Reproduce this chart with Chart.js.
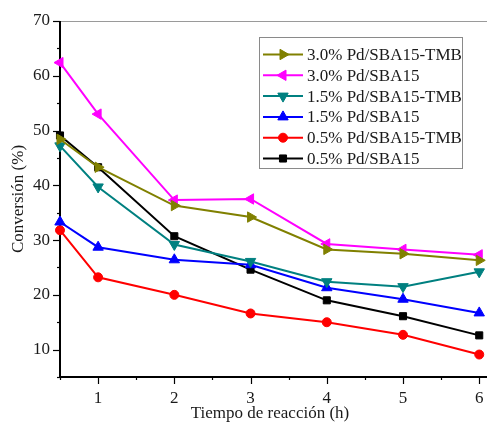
<!DOCTYPE html>
<html>
<head>
<meta charset="utf-8">
<script src="https://cdn.jsdelivr.net/npm/chart.js@4.4.0/dist/chart.umd.min.js"></script>
<style>
    html, body { margin: 0; padding: 0; background: #fff; }
    #wrap { width: 487px; height: 422px; }
</style>
</head>
<body>
<div id="wrap"><canvas id="chart"></canvas></div>
<script>
// tiempo de reacción (h)
const timeValues = [0.5, 1, 2, 3, 4, 5, 6];

const seriesLabels = ["3.0% Pd/SBA15-TMB", "3.0% Pd/SBA15", "1.5% Pd/SBA15-TMB", "1.5% Pd/SBA15", "0.5% Pd/SBA15-TMB", "0.5% Pd/SBA15"];
const pd30Tmb = [48.4, 43.3, 36.3, 34.2, 28.3, 27.5, 26.3];
const pd30 = [62.4, 53.0, 37.3, 37.5, 29.3, 28.3, 27.3];
const pd15Tmb = [47.2, 39.7, 29.2, 26.1, 22.4, 21.5, 24.2];
const pd15 = [33.3, 28.7, 26.4, 25.5, 21.3, 19.2, 16.7];
const pd05Tmb = [31.8, 23.2, 20.0, 16.6, 15.0, 12.7, 9.1];
const pd05 = [49.1, 43.3, 30.7, 24.6, 19.0, 16.1, 12.6];

const xTickLabels = [1, 2, 3, 4, 5, 6];
const xMinorTicks = [0.5, 1.5, 2.5, 3.5, 4.5, 5.5];
const yTickLabels = [10, 20, 30, 40, 50, 60, 70];

const FONT = "'Liberation Serif', 'Times New Roman', serif";

function makeSet(label, values, color, style, rotation, radius) {
    return {
        label: label,
        data: values.map((v, i) => ({ x: timeValues[i], y: v })),
        borderColor: color,
        backgroundColor: color,
        borderWidth: 2,
        pointStyle: style,
        rotation: rotation,
        pointRadius: radius,
        pointHoverRadius: radius,
        pointBorderWidth: 1,
        tension: 0,
        clip: false
    };
}

const datasets = [
    makeSet(seriesLabels[0], pd30Tmb, "#808000", "triangle", 90, 6),
    makeSet(seriesLabels[1], pd30, "#ff00ff", "triangle", -90, 6),
    makeSet(seriesLabels[2], pd15Tmb, "#008080", "triangle", 180, 6),
    makeSet(seriesLabels[3], pd15, "#0000ff", "triangle", 0, 6),
    makeSet(seriesLabels[4], pd05Tmb, "#ff0000", "circle", 0, 4.5),
    makeSet(seriesLabels[5], pd05, "#000000", "rect", 0, 5)
];

// ejes, marcas, linea superior y leyenda
const axisDeco = {
    id: "axisDeco",
    beforeDatasetsDraw(chart) {
        const ctx = chart.ctx;
        const a = chart.chartArea;
        ctx.save();
        ctx.strokeStyle = "#9a9a9a";
        ctx.lineWidth = 1;
        ctx.beginPath();
        ctx.moveTo(a.left, a.top + 0.5);
        ctx.lineTo(chart.width, a.top + 0.5);
        ctx.stroke();

        ctx.strokeStyle = "#000";
        ctx.lineWidth = 2;
        ctx.beginPath();
        ctx.moveTo(a.left, a.top);
        ctx.lineTo(a.left, a.bottom);
        ctx.lineTo(chart.width, a.bottom);
        ctx.stroke();
        ctx.restore();
    },
    afterDraw(chart) {
        const ctx = chart.ctx;
        const a = chart.chartArea;
        const xs = chart.scales.x;
        const ys = chart.scales.y;
        ctx.save();

        ctx.strokeStyle = "#000";
        ctx.lineWidth = 1.2;
        xs.ticks.forEach(t => {
            let px = Math.round(xs.getPixelForValue(t.value)) + 0.5;
            let len = Number.isInteger(t.value) ? 7 : 3;
            ctx.beginPath();
            ctx.moveTo(px, a.bottom);
            ctx.lineTo(px, a.bottom + len);
            ctx.stroke();
        });
        ys.ticks.forEach(t => {
            if (t.value % 5 !== 0) return;
            let py = Math.round(ys.getPixelForValue(t.value)) + 0.5;
            let len = t.value % 10 === 0 ? 7 : 3;
            ctx.beginPath();
            ctx.moveTo(a.left, py);
            ctx.lineTo(a.left - len, py);
            ctx.stroke();
        });

        // leyenda
        const box = { left: 259.5, top: 37.5, width: 203, height: 131 };
        ctx.fillStyle = "#fff";
        ctx.fillRect(box.left, box.top, box.width, box.height);
        ctx.strokeStyle = "#8a8a8a";
        ctx.lineWidth = 1;
        ctx.strokeRect(box.left, box.top, box.width, box.height);

        ctx.font = "17px " + FONT;
        ctx.textBaseline = "middle";
        ctx.textAlign = "left";
        chart.data.datasets.forEach((ds, i) => {
            let yy = 54.5 + i * 20.8;
            ctx.strokeStyle = ds.borderColor;
            ctx.lineWidth = 2;
            ctx.beginPath();
            ctx.moveTo(263, yy);
            ctx.lineTo(303, yy);
            ctx.stroke();
            ctx.fillStyle = ds.backgroundColor;
            ctx.lineWidth = 1;
            if (Chart.helpers && Chart.helpers.drawPoint) {
                Chart.helpers.drawPoint(ctx, {
                    pointStyle: ds.pointStyle,
                    rotation: ds.rotation,
                    radius: ds.pointRadius,
                    borderWidth: 1
                }, 283, yy);
            }
            ctx.fillStyle = "#1a1a1a";
            ctx.fillText(ds.label, 307, yy + 1);
        });
        ctx.restore();
    }
};

new Chart(document.getElementById("chart"), {
    type: "line",
    data: { datasets: datasets },
    plugins: [axisDeco],
    options: {
        responsive: true,
        maintainAspectRatio: false,
        animation: false,
        layout: { padding: { top: 21, right: 0, bottom: 0, left: 0 } },
        plugins: {
            legend: { display: false },
            tooltip: { enabled: false }
        },
        scales: {
            x: {
                type: "linear",
                min: 0.5,
                max: 6.01,
                grid: { display: false, drawTicks: false },
                border: { display: false },
                afterBuildTicks: scale => {
                    scale.ticks = xMinorTicks.concat(xTickLabels)
                        .sort((p, q) => p - q)
                        .map(v => ({ value: v }));
                },
                afterFit: scale => {
                    scale.height = 45;
                    scale.paddingLeft = 0;
                    scale.paddingRight = 0;
                },
                ticks: {
                    padding: 11,
                    color: "#1a1a1a",
                    font: { family: FONT, size: 17 },
                    maxRotation: 0,
                    autoSkip: false,
                    callback: v => xTickLabels.includes(v) ? String(v) : ""
                },
                title: {
                    display: true,
                    text: "Tiempo de reacción (h)",
                    color: "#1a1a1a",
                    font: { family: FONT, size: 17, lineHeight: 1 },
                    padding: { top: 0, bottom: 0 }
                }
            },
            y: {
                min: 5,
                max: 70,
                grid: { display: false, drawTicks: false },
                border: { display: false },
                afterFit: scale => { scale.width = 60; },
                ticks: {
                    stepSize: 5,
                    padding: 10,
                    color: "#1a1a1a",
                    font: { family: FONT, size: 17 },
                    autoSkip: false,
                    callback: v => yTickLabels.includes(v) ? String(v) : ""
                },
                title: {
                    display: true,
                    text: "Conversión (%)",
                    color: "#1a1a1a",
                    font: { family: FONT, size: 17, lineHeight: 1 },
                    padding: { top: 10, bottom: 0 }
                }
            }
        }
    }
});
</script>
</body>
</html>
